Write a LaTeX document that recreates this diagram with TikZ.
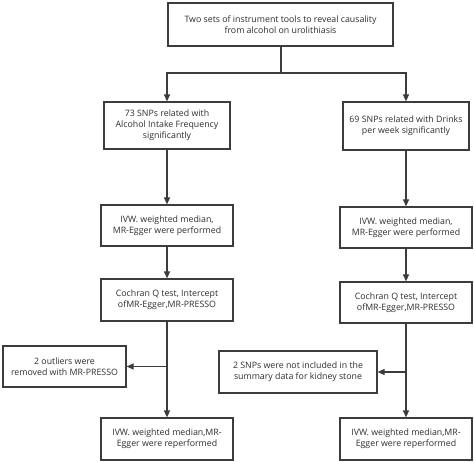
\documentclass[tikz,border=0pt]{standalone}
\usepackage{fontspec}
\setmainfont{Open Sans}
\usetikzlibrary{arrows.meta,shadows}
\definecolor{linec}{HTML}{3C3C3C}
\definecolor{textc}{HTML}{2E2E2E}
\begin{document}
\begin{tikzpicture}[x=1pt,y=-1pt,
  box/.style={draw=linec, line width=1.2pt, fill=white, align=center, inner sep=0pt,
    font=\fontsize{8.8}{11}\selectfont, text=textc,
    drop shadow={shadow xshift=1.2pt, shadow yshift=-1.2pt, fill=gray!45, opacity=0.7}},
  conn/.style={draw=linec, line width=1.2pt},
  arr/.style={conn, -{Triangle[length=7pt,width=6pt]}}]
\useasboundingbox (0,0) rectangle (474,462);
\node[box, minimum width=225pt, minimum height=43pt] (top) at (280.5,24.5)
  {Two sets of instrument tools to reveal causality\\from alcohol on urolithiasis};
\node[box, minimum width=126pt, minimum height=47pt] (l1) at (167,125.5)
  {73 SNPs related with\\Alcohol Intake Frequency\\significantly};
\node[box, minimum width=126pt, minimum height=48pt] (r1) at (406,126)
  {69 SNPs related with Drinks\\per week significantly};
\node[box, minimum width=132pt, minimum height=41pt] (l2) at (167,225.5)
  {IVW. weighted median,\\MR-Egger were performed};
\node[box, minimum width=132pt, minimum height=41pt] (r2) at (406,227.5)
  {IVW. weighted median,\\MR-Egger were performed};
\node[box, minimum width=132pt, minimum height=42pt] (l3) at (167,300)
  {Cochran Q test, Intercept\\ofMR-Egger,MR-PRESSO};
\node[box, minimum width=132pt, minimum height=41pt] (r3) at (406,302.5)
  {Cochran Q test, Intercept\\ofMR-Egger,MR-PRESSO};
\node[box, minimum width=123pt, minimum height=41pt] (ls) at (64.5,366.5)
  {2 outliers were\\removed with MR-PRESSO};
\node[box, minimum width=158pt, minimum height=42pt] (rs) at (298,372)
  {2 SNPs were not included in the\\summary data for kidney stone};
\node[box, minimum width=132pt, minimum height=42pt] (l4) at (167,439)
  {IVW. weighted median,MR-\\Egger were reperformed};
\node[box, minimum width=132pt, minimum height=42pt] (r4) at (406,439)
  {IVW. weighted median,MR-\\Egger were reperformed};
\coordinate (split) at (281,73);
\coordinate (lj) at (167,366.5);
\coordinate (rj) at (406,372);
\draw[conn] (top.south -| split) -- (split);
\draw[arr] (split) -| (l1.north);
\draw[arr] (split) -| (r1.north);
\draw[arr] (l1) -- (l2);
\draw[arr] (r1) -- (r2);
\draw[arr] (l2) -- (l3);
\draw[arr] (r2) -- (r3);
\draw[arr] (l3) -- (l4);
\draw[arr] (r3) -- (r4);
\draw[arr] (lj) -- (ls.east);
\draw[arr] (rj) -- (rs.east);
\end{tikzpicture}
\end{document}
